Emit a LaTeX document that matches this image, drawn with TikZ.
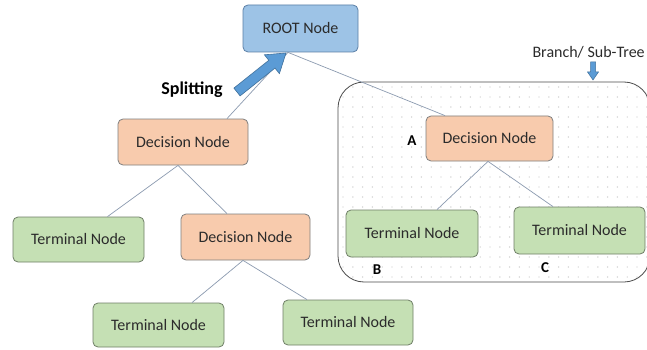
\documentclass[tikz,border=0pt]{standalone}
\usepackage{fontspec}
\setmainfont{Carlito}
\usetikzlibrary{calc}
\definecolor{rootfill}{HTML}{9DC3E6}
\definecolor{rootdraw}{HTML}{5B7FA6}
\definecolor{decfill}{HTML}{F8CBAD}
\definecolor{decdraw}{HTML}{7F7F7F}
\definecolor{termfill}{HTML}{C5E0B4}
\definecolor{termdraw}{HTML}{6F7F67}
\definecolor{edge}{HTML}{8C9BB0}
\definecolor{arrowfill}{HTML}{5B9BD5}
\definecolor{arrowdraw}{HTML}{41719C}
\definecolor{txt}{HTML}{2B2B2B}
\definecolor{dotc}{HTML}{C8C8C8}
\tikzset{
  box/.style={rectangle, rounded corners=5pt, line width=0.8pt, text=txt,
    font=\fontsize{16}{18}\selectfont, inner sep=0pt},
  rootbox/.style={box, fill=rootfill, draw=rootdraw},
  decbox/.style={box, fill=decfill, draw=decdraw},
  termbox/.style={box, fill=termfill, draw=termdraw},
  link/.style={draw=edge, line width=0.7pt},
  tag/.style={font=\bfseries\fontsize{15}{17}\selectfont, text=black},
}
\begin{document}
\begin{tikzpicture}[x=1pt, y=-1pt]
\useasboundingbox (0,0) rectangle (647,350);
\clip (0,0) rectangle (647,350);
\fill[white] (0,0) rectangle (647,350);

% sub-tree region with dotted background
\begin{scope}
  \clip[rounded corners=26pt] (338,82) rectangle (650,282);
  \fill[white] (338,82) rectangle (650,282);
  \foreach \i in {0,...,31} {
    \foreach \j in {0,...,19} {
      \fill[dotc] (343+\i*9.8, 87+\j*10) circle (0.7pt);
    }
  }
\end{scope}
\draw[line width=0.8pt, draw=black!70, rounded corners=26pt] (338,82) rectangle (650,282);

% nodes
\node[rootbox, minimum width=115pt, minimum height=47pt] (root) at (300.5,28.5) {ROOT Node};
\node[decbox, minimum width=130pt, minimum height=46pt] (dl) at (183,142) {Decision Node};
\node[termbox, minimum width=131pt, minimum height=45pt] (tl) at (78.5,239.5) {Terminal Node};
\node[decbox, minimum width=129pt, minimum height=46pt] (dm) at (245.5,237) {Decision Node};
\node[termbox, minimum width=131pt, minimum height=44pt] (tbl) at (158.5,325) {Terminal Node};
\node[termbox, minimum width=130pt, minimum height=45pt] (tbr) at (348,322.5) {Terminal Node};
\node[decbox, minimum width=127pt, minimum height=45pt] (dr) at (489.5,138.5) {Decision Node};
\node[termbox, minimum width=132pt, minimum height=47pt] (tb) at (412,233.5) {Terminal Node};
\node[termbox, minimum width=131pt, minimum height=47pt] (tc) at (579.5,230.5) {Terminal Node};

% connectors
\draw[link] ($(root.south)+(-12.5,0)$) -- ($(dl.north)+(44,0)$);
\draw[link] ($(root.south)+(-12.5,0)$) -- ($(dr.north)+(-44.5,0)$);
\draw[link] ($(dl.south)+(-5,0)$) -- ($(tl.north)+(29,0)$);
\draw[link] ($(dl.south)+(-5,0)$) -- ($(dm.north)+(-18.5,0)$);
\draw[link] ($(dm.south)+(-2.5,0)$) -- ($(tbl.north)+(33.5,0)$);
\draw[link] ($(dm.south)+(-2.5,0)$) -- ($(tbr.north)+(-41,0)$);
\draw[link] ($(dr.south)+(-1.5,0)$) -- ($(tb.north)+(25,0)$);
\draw[link] ($(dr.south)+(-1.5,0)$) -- ($(tc.north)+(-26.5,0)$);

% splitting arrow
\draw[fill=arrowfill, draw=arrowdraw, line width=0.6pt, line join=miter]
  (233.9,88.1) -- (268.8,60.3) -- (264.4,54.8) -- (286,53) -- (279.4,73.6)
  -- (275.0,68.1) -- (240.1,95.9) -- cycle;
\node[font=\bfseries\fontsize{18}{20}\selectfont, text=black] (split) at (192,90) {Splitting};

% branch label with small pointer
\node[anchor=west, text=txt, font=\fontsize{16}{18}\selectfont] (branch) at (529,52) {Branch/ Sub-Tree};
\draw[fill=arrowfill, draw=arrowdraw, line width=0.5pt]
  (590.5,62) -- (595.5,62) -- (595.5,72) -- (598.5,72) -- (593,80) -- (587.5,72) -- (590.5,72) -- cycle;

% letters
\node[tag] (la) at (412,141) {A};
\node[tag] (lb) at (377,270) {B};
\node[tag] (lc) at (545,268) {C};
\end{tikzpicture}
\end{document}
